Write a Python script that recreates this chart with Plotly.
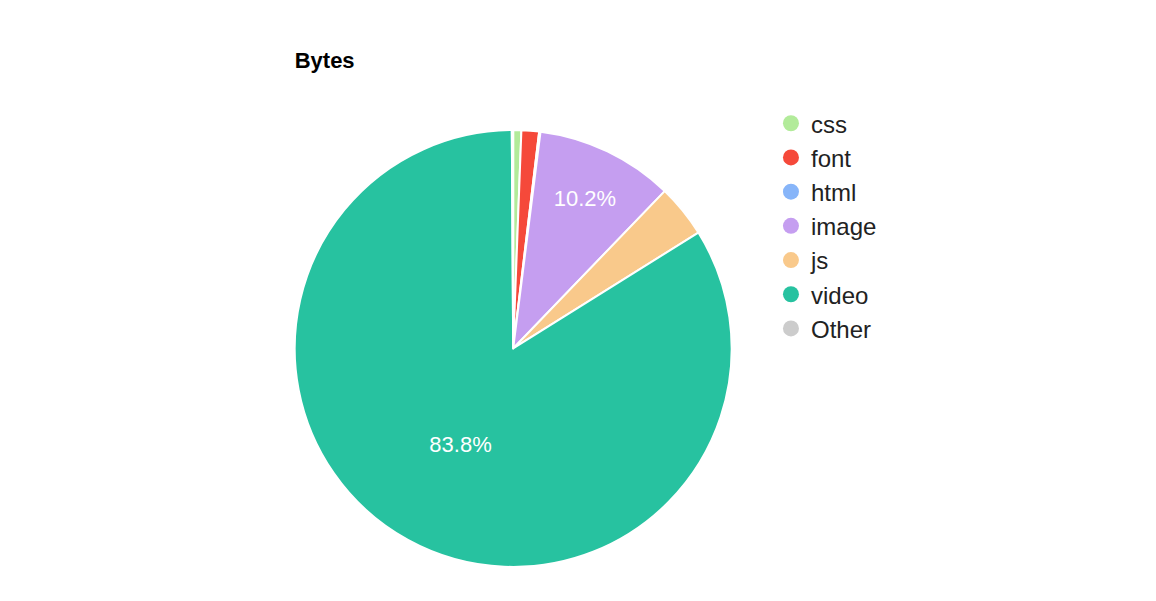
import plotly.graph_objects as go

labels = ["css", "font", "html", "image", "js", "video", "Other"]
values = [0.6, 1.3, 0.1, 10.2, 3.9, 83.8, 0.1]
colors = ["#b2eb9a", "#f5493a", "#87b5f9", "#c59ef0", "#f9c98b", "#27c2a0", "#cccccc"]

fig = go.Figure()
fig.add_trace(go.Pie(
    labels=labels, values=values, sort=False, direction="clockwise", rotation=0,
    marker=dict(colors=colors, line=dict(color="white", width=2)),
    textinfo="percent", texttemplate="%{percent:.1%}",
    textposition=["inside" if v > 5 else "none" for v in values],
    insidetextfont=dict(color="white", size=22, family="Liberation Sans, Arial"),
    domain=dict(x=[0.248, 0.626], y=[0.07, 0.797]),
    showlegend=False, hoverinfo="label+percent",
))

# legend entries drawn with circle markers
for lab, col in zip(labels, colors):
    fig.add_trace(go.Scatter(x=[None], y=[None], mode="markers", name=lab,
                             marker=dict(color=col, size=22, symbol="circle")))

fig.update_layout(
    width=1156, height=601,
    paper_bgcolor="white", plot_bgcolor="white",
    margin=dict(l=0, r=0, t=0, b=0),
    title=dict(text="<b>Bytes</b>", x=0.248, y=0.925, xanchor="left",
               font=dict(size=22, color="black", family="Liberation Sans, Arial")),
    xaxis=dict(visible=False), yaxis=dict(visible=False),
    legend=dict(x=0.66, y=0.845, xanchor="left", yanchor="top",
                font=dict(size=24, color="#222", family="Liberation Sans, Arial"),
                itemsizing="trace", tracegroupgap=0),
)

fig.write_html("out.html")
